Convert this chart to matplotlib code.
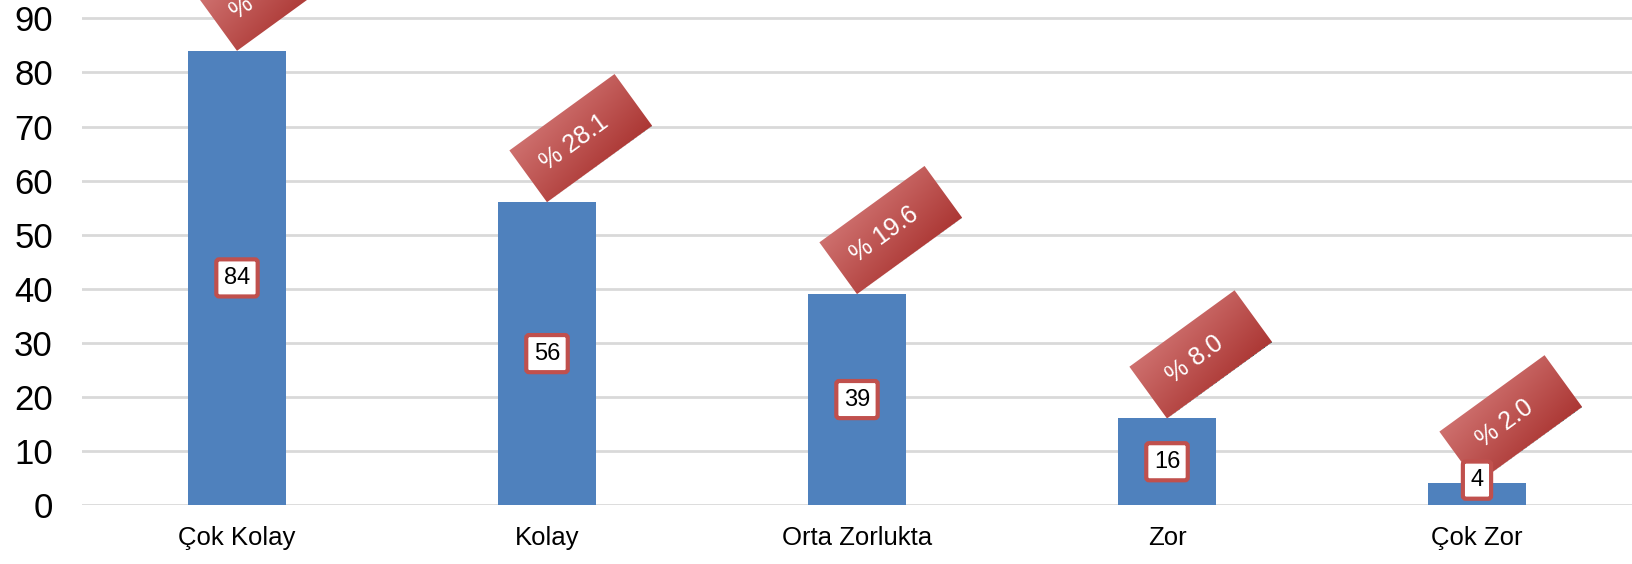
import numpy as np
import matplotlib
matplotlib.use('Agg')
import matplotlib.pyplot as plt
from matplotlib.patches import Polygon
from matplotlib.transforms import Affine2D, ScaledTranslation

plt.rcParams['font.family'] = ['Liberation Sans', 'DejaVu Sans']

categories = ['Çok Kolay', 'Kolay', 'Orta Zorlukta', 'Zor', 'Çok Zor']
counts = [84, 56, 39, 16, 4]
percent_labels = ['% 42.2', '% 28.1', '% 19.6', '% 8.0', '% 2.0']

bar_color = '#4F81BD'
red = '#C0504D'
grid_color = '#D9D9D9'

# size of the rotated red tag, in pixels (dpi=100)
tag_w, tag_h, tag_angle = 130, 64, 36

fig = plt.figure(figsize=(16.32, 5.64), dpi=100)
ax = fig.add_axes([82 / 1632, 59 / 564, 1 - 82 / 1632, 1 - 59 / 564])

x = np.arange(len(categories))
ax.bar(x, counts, width=0.314, color=bar_color, zorder=3)

ax.set_xlim(-0.5, len(categories) - 0.5)
ax.set_ylim(0, 93.4)
ax.set_yticks(np.arange(0, 91, 10))
ax.yaxis.grid(True, color=grid_color, lw=2, zorder=0)
ax.set_axisbelow(True)
for s in ax.spines.values():
    s.set_visible(False)
ax.tick_params(axis='y', length=0, pad=21, labelsize=25)
ax.tick_params(axis='x', length=0, pad=15, labelsize=18.5)
ax.set_xticks(x)
ax.set_xticklabels(categories)

# gradient for the tags, in the tag's own frame
gx, gy = np.meshgrid(np.linspace(0, 1, 60), np.linspace(0, 1, 30))
t = np.clip(0.7 * (1 - gy) + 0.3 * gx, 0, 1)[..., None]
light = np.array([206, 112, 110]) / 255
dark = np.array([172, 56, 53]) / 255
grad = light * (1 - t) + dark * t

corners = [(0, 0), (tag_w, 0), (tag_w, tag_h), (0, tag_h)]

for i, (v, pl) in enumerate(zip(counts, percent_labels)):
    # value box in the middle of the bar
    ax.text(i, max(v / 2, 4.6), str(v), ha='center', va='center', fontsize=17, color='black', zorder=5,
            bbox=dict(boxstyle='round,pad=0.32,rounding_size=0.12', fc='white', ec=red, lw=3))

    # red tilted tag standing on the bar top
    anchor = ScaledTranslation(i, v, ax.transData)
    tr = Affine2D().rotate_deg(tag_angle) + anchor
    clip = Polygon(corners, closed=True, transform=tr, fc='none', ec='none')
    ax.add_patch(clip)
    img = ax.imshow(grad, extent=(0, tag_w, 0, tag_h), origin='lower', transform=tr,
                    aspect='auto', interpolation='bilinear', zorder=4)
    img.set_clip_path(clip)

    a = np.deg2rad(tag_angle)
    cx, cy = tag_w / 2 - 8, tag_h / 2
    dx = cx * np.cos(a) - cy * np.sin(a)
    dy = cx * np.sin(a) + cy * np.cos(a)
    ax.text(0, 0, pl, transform=Affine2D().translate(dx, dy) + anchor, rotation=tag_angle,
            rotation_mode='anchor', ha='center', va='center', color='white', fontsize=18, zorder=6,
            clip_on=False)

ax.set_xlim(-0.5, len(categories) - 0.5)
ax.set_ylim(0, 93.4)

fig.savefig('out.png', dpi=100)
